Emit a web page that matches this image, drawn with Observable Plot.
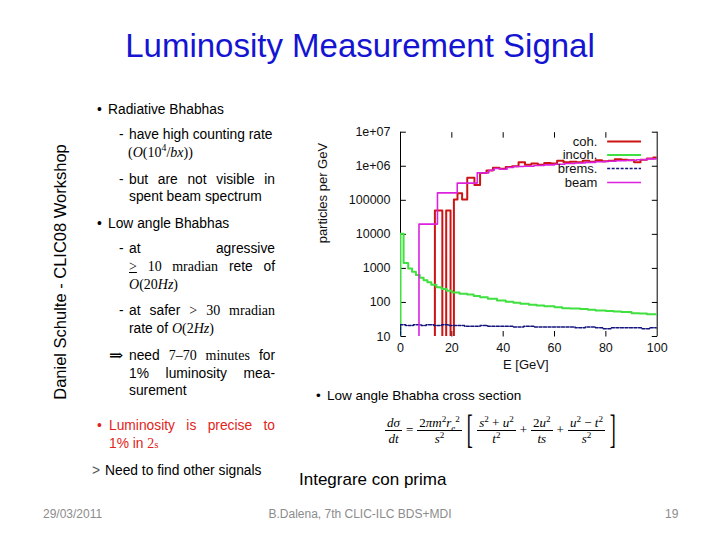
<!DOCTYPE html>
<html><head><meta charset="utf-8">
<script src="https://cdn.jsdelivr.net/npm/d3@7"></script>
<script src="https://cdn.jsdelivr.net/npm/@observablehq/plot@0.6"></script>
<style>
html,body{margin:0;padding:0;background:#fff;}
#slide{position:relative;width:720px;height:540px;overflow:hidden;font-family:"Liberation Sans",Arial,sans-serif;color:#000;}
.abs{position:absolute;white-space:nowrap;}
.ln{position:absolute;white-space:nowrap;font-size:13.8px;line-height:16px;transform:translateY(-50%);}
.j{text-align:justify;text-align-last:justify;white-space:normal;width:146px;left:129px;}
.m{font-family:"Liberation Serif","DejaVu Serif",serif;font-size:14px;}
.red{color:#e2231a;}
.frac{display:inline-flex;flex-direction:column;align-items:center;vertical-align:middle;margin:0 1px;}
.frac>span{display:block;padding:0 2px;line-height:15px;}
.frac>span:first-child{border-bottom:1px solid #000;}
#formula{font-family:"Liberation Serif","DejaVu Serif",serif;font-style:italic;font-size:13px;display:flex;align-items:center;}
#formula .up{font-style:normal;}
#formula .br{font-style:normal;font-size:40px;line-height:36px;font-weight:100;transform:scaleX(0.45);}
sup,sub{font-size:70%;line-height:0;}
#chart{position:absolute;left:300px;top:110px;}
</style></head>
<body><div id="slide">
<div class="abs" style="left:360px;top:46px;transform:translate(-50%,-50%);font-size:33px;color:#1414d2;">Luminosity Measurement Signal</div>
<div class="abs" style="left:60px;top:272px;transform:translate(-50%,-50%) rotate(-90deg);font-size:16.5px;">Daniel Schulte - CLIC08 Workshop</div>

<div class="ln" style="left:97px;top:110px;">•</div>
<div class="ln" style="left:108px;top:110px;">Radiative Bhabhas</div>
<div class="ln" style="left:119px;top:135px;">-</div>
<div class="ln" style="left:129px;top:135px;">have high counting rate</div>
<div class="ln m" style="left:128px;top:153px;">(<i>O</i>(10<sup>4</sup>/<i>bx</i>))</div>
<div class="ln" style="left:119px;top:180px;">-</div>
<div class="ln j" style="top:180px;">but are not visible in</div>
<div class="ln" style="left:129px;top:197px;">spent beam spectrum</div>
<div class="ln" style="left:97px;top:224px;">•</div>
<div class="ln" style="left:108px;top:224px;">Low angle Bhabhas</div>
<div class="ln" style="left:119px;top:249px;">-</div>
<div class="ln j" style="top:249px;">at agressive</div>
<div class="ln j" style="top:267px;"><span class="m"><u>&gt;</u></span> <span class="m">10 mradian</span> rete of</div>
<div class="ln m" style="left:129px;top:285px;"><i>O</i>(20<i>Hz</i>)</div>
<div class="ln" style="left:119px;top:311px;">-</div>
<div class="ln j" style="top:311px;">at safer <span class="m">&gt;</span> <span class="m">30 mradian</span></div>
<div class="ln" style="left:129px;top:329px;">rate of <span class="m"><i>O</i>(2<i>Hz</i>)</span></div>
<div class="ln m" style="left:109px;top:356px;font-size:17px;">⇒</div>
<div class="ln j" style="top:356px;">need <span class="m">7–70 minutes</span> for</div>
<div class="ln j" style="top:374px;">1% luminosity mea-</div>
<div class="ln" style="left:129px;top:391px;">surement</div>
<div class="ln red" style="left:97px;top:426px;">•</div>
<div class="ln red j" style="left:109px;width:166px;top:426px;">Luminosity is precise to</div>
<div class="ln red" style="left:109px;top:444px;">1% in <span class="m">2<span style="font-size:11px">s</span></span></div>
<div class="ln" style="left:92px;top:471px;color:#555;">&gt;</div>
<div class="ln" style="left:105px;top:471px;">Need to find other signals</div>

<div id="chart"></div>

<div class="ln" style="left:316px;top:396px;font-size:13.5px;">•</div>
<div class="ln" style="left:327px;top:396px;font-size:13.5px;">Low angle Bhabha cross section</div>
<div class="abs" id="formula" style="left:384px;top:412px;">
  <span class="frac"><span><i>dσ</i></span><span><i>dt</i></span></span>
  <span class="up" style="margin:0 3px;">=</span>
  <span class="frac"><span><span class="up">2</span>π<i>m</i><sup class="up">2</sup><i>r</i><sub>e</sub><sup class="up">2</sup></span><span><i>s</i><sup class="up">2</sup></span></span>
  <span class="br">[</span>
  <span class="frac"><span><i>s</i><sup class="up">2</sup> <span class="up">+</span> <i>u</i><sup class="up">2</sup></span><span><i>t</i><sup class="up">2</sup></span></span>
  <span class="up" style="margin:0 3px;">+</span>
  <span class="frac"><span><span class="up">2</span><i>u</i><sup class="up">2</sup></span><span><i>ts</i></span></span>
  <span class="up" style="margin:0 3px;">+</span>
  <span class="frac"><span><i>u</i><sup class="up">2</sup> <span class="up">−</span> <i>t</i><sup class="up">2</sup></span><span><i>s</i><sup class="up">2</sup></span></span>
  <span class="br">]</span>
</div>

<div class="abs" style="left:299px;top:480px;transform:translateY(-50%);font-size:17px;">Integrare con prima</div>

<div class="abs" style="left:43px;top:514px;transform:translateY(-50%);font-size:12px;color:#8c8c8c;">29/03/2011</div>
<div class="abs" style="left:360px;top:514px;transform:translate(-50%,-50%);font-size:12px;color:#8c8c8c;">B.Dalena, 7th CLIC-ILC BDS+MDI</div>
<div class="abs" style="left:665px;top:514px;transform:translateY(-50%);font-size:12px;color:#8c8c8c;">19</div>
</div>
<script>
// ---- data ----
const yTicks = [10, 100, 1000, 10000, 100000, 1e6, 1e7];
const yTickLabels = ["10", "100", "1000", "10000", "100000", "1e+06", "1e+07"];
const xTicks = [0, 20, 40, 60, 80, 100];
const seriesNames = ["coh.", "incoh.", "brems.", "beam"];

const cohE = [13.4, 13.4, 16.3, 17.8, 19.5, 20.8, 22.2, 24.0, 26.0, 28.8, 31.0, 33.5, 36.0, 38.5, 41.0, 43.5, 46.0, 48.5, 51.0, 53.5, 56.0, 58.5, 61.0, 63.5, 66.0, 68.5, 71.0, 73.5, 76.0, 78.5, 81.0, 83.5, 86.0, 88.5, 91.0, 93.5, 96.0, 98.5, 100];
const cohN = [1, 5e4, 1, 5e4, 1, 1.05e5, 1.6e5, 1.05e5, 4.6e5, 2.8e5, 6.3e5, 7.5e5, 9e5, 8.5e5, 9.5e5, 1.0e6, 1.3e6, 1.1e6, 1.2e6, 1.1e6, 1.25e6, 1.2e6, 1.45e6, 1.3e6, 1.35e6, 1.3e6, 1.45e6, 1.35e6, 1.5e6, 1.4e6, 1.45e6, 1.6e6, 1.55e6, 1.5e6, 1.3e6, 1.55e6, 1.7e6, 1.8e6, 1.8e6];

const incohE = [0, 0, 1.2, 3, 4.5, 6, 7.5, 9, 10.5, 12, 14, 16, 18, 20, 23, 26, 28.5, 31, 34, 37.6, 41, 44, 46.7, 50, 53, 56, 60, 63, 66, 70, 73, 76, 80, 83, 86, 90, 93, 96, 100];
const incohN = [1, 1.05e4, 1450, 1000, 800, 640, 530, 450, 390, 330, 280, 250, 220, 195, 180, 170, 155, 142, 128, 114, 105, 98, 91, 86, 81, 77, 72, 68, 66, 64, 61, 58, 56, 54, 52, 48, 47, 45, 43];

const bremsE = [0, 0, 2, 5, 8, 10, 13, 16, 19, 22, 25, 28, 31, 34, 37, 40, 44, 48, 52, 56, 60, 64, 68, 72, 76, 79, 82, 86, 90, 94, 97, 100];
const bremsN = [1, 22, 21, 22, 21, 22, 21, 22, 21, 21, 20, 20, 21, 20, 20, 20, 19, 20, 19, 19, 19, 19, 18, 19, 18, 17, 18, 18, 18, 17, 18, 17];

const beamE = [7.2, 7.2, 14.4, 22.1, 29.9, 34.4, 36.5, 39, 41.5, 44, 48, 52, 56, 60, 64, 68, 72, 76, 80, 84, 88, 92, 96, 100];
const beamN = [1, 2e4, 1.65e5, 3.2e5, 6.4e5, 7.6e5, 8.6e5, 8.2e5, 9.2e5, 9.8e5, 1.0e6, 1.05e6, 1.1e6, 1.15e6, 1.2e6, 1.25e6, 1.3e6, 1.35e6, 1.4e6, 1.45e6, 1.5e6, 1.55e6, 1.65e6, 1.75e6];

// ---- build tables ----
const toRows = (E, N) => E.map((e, i) => ({E: e, N: N[i]}));
const coh = toRows(cohE, cohN), incoh = toRows(incohE, incohN), brems = toRows(bremsE, bremsN), beam = toRows(beamE, beamN);

const colors = ["#cc1414", "#3fe03f", "#14147e", "#dc22dc"];
const widths = [2, 2, 1.5, 1.6];
const dashes = [null, null, "3,1.5", null];

const W = 380, H = 270, mL = 100, mR = 23.3, mT = 21.7, mB = 44;
const decadePx = (H - mT - mB) / 6;
const legendOffsets = [9.3, 22.8, 36.3, 50.3];
const legendY = legendOffsets.map(o => 10 ** (7 - o / decadePx));

const lineMark = (rows, i) => Plot.line(rows, {x: "E", y: "N", curve: "step-after", stroke: colors[i], strokeWidth: widths[i], strokeDasharray: dashes[i], clip: true});

const marks = [
  Plot.ruleX([0, 100], {stroke: "#000", strokeWidth: 1}),
  Plot.link(yTicks, {x1: 0, x2: 2.1, y1: d => d, y2: d => d, stroke: "#000"}),
  Plot.link(yTicks, {x1: 97.9, x2: 100, y1: d => d, y2: d => d, stroke: "#000"}),
  Plot.link(xTicks.slice(1, -1), {x1: d => d, x2: d => d, y1: 10, y2: 14.5, stroke: "#000"}),
  Plot.link(xTicks.slice(1, -1), {x1: d => d, x2: d => d, y1: 1e7, y2: 6.9e6, stroke: "#000"}),
  Plot.axisY(yTicks, {tickSize: 0, tickPadding: 10, label: null, tickFormat: d => yTickLabels[yTicks.indexOf(d)]}),
  Plot.axisX(xTicks, {tickSize: 0, tickPadding: 6.5, label: null, tickFormat: d => String(d)}),
  Plot.text(["particles per GeV"], {frameAnchor: "left", dx: -78, dy: 9, rotate: -90, fontSize: 13}),
  Plot.text(["E [GeV]"], {frameAnchor: "bottom", dx: -3, dy: 32, fontSize: 13}),
  lineMark(coh, 0),
  lineMark(incoh, 1),
  lineMark(brems, 2),
  lineMark(beam, 3)
];
seriesNames.forEach((name, i) => {
  marks.push(Plot.text([name], {x: 76.7, y: legendY[i], textAnchor: "end", fontSize: 13}));
  marks.push(Plot.link([name], {x1: 80.5, x2: 93.7, y1: legendY[i], y2: legendY[i], stroke: colors[i], strokeWidth: widths[i], strokeDasharray: dashes[i]}));
});

const chart = Plot.plot({
  width: W, height: H, marginLeft: mL, marginRight: mR, marginTop: mT, marginBottom: mB,
  style: {fontFamily: "Liberation Sans, Arial, sans-serif", fontSize: "12.5px", background: "transparent", color: "#111"},
  x: {domain: [0, 100]},
  y: {type: "log", domain: [10, 1e7]},
  marks
});
document.getElementById("chart").appendChild(chart);
</script>
</body></html>
